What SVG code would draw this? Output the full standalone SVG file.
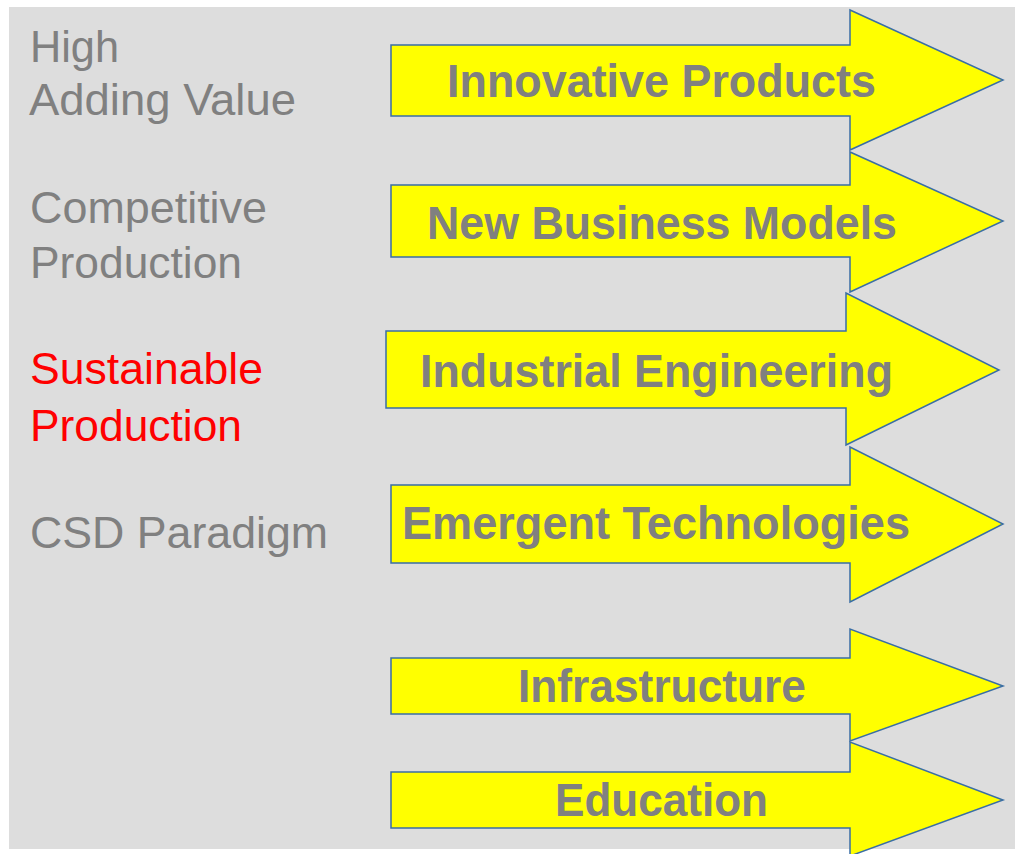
<svg xmlns="http://www.w3.org/2000/svg" width="1015" height="854" viewBox="0 0 1015 854">
<style>
.arrow{fill:#FFFF00;stroke:#3A6EA5;stroke-width:1.5;stroke-linejoin:miter}
.lbl{font-family:"Liberation Sans",Arial,sans-serif;font-weight:bold;font-size:46px;fill:#808080}
.side{font-family:"Liberation Sans",Arial,sans-serif;font-size:45px;fill:#808080}
.red{fill:#FF0000}
</style>
<rect x="0" y="0" width="1015" height="854" fill="#FFFFFF"/>
<rect x="9" y="7" width="1006" height="842" fill="#DDDDDD"/>
<g id="side-labels">
<text class="side" x="30" y="62" textLength="89" lengthAdjust="spacingAndGlyphs">High</text>
<text class="side" x="29" y="115" textLength="267" lengthAdjust="spacingAndGlyphs">Adding Value</text>
<text class="side" x="30" y="223" textLength="237" lengthAdjust="spacingAndGlyphs">Competitive</text>
<text class="side" x="30" y="278" textLength="212" lengthAdjust="spacingAndGlyphs">Production</text>
<text class="side red" x="30" y="384" textLength="233" lengthAdjust="spacingAndGlyphs">Sustainable</text>
<text class="side red" x="30" y="441" textLength="212" lengthAdjust="spacingAndGlyphs">Production</text>
<text class="side" x="30" y="548" textLength="298" lengthAdjust="spacingAndGlyphs">CSD Paradigm</text>
</g>
<g id="arrow-innovative">
<path class="arrow" d="M391,45 H850 V10 L1003,80 L850,150 V116 H391 Z"/>
<text class="lbl" x="447" y="97" textLength="429" lengthAdjust="spacingAndGlyphs">Innovative Products</text>
</g>
<g id="arrow-business">
<path class="arrow" d="M391,185 H850 V152 L1003,221 L850,292 V257 H391 Z"/>
<text class="lbl" x="427" y="239" textLength="470" lengthAdjust="spacingAndGlyphs">New Business Models</text>
</g>
<g id="arrow-industrial">
<path class="arrow" d="M386,331 H846 V293 L999,370 L846,445 V408 H386 Z"/>
<text class="lbl" x="420" y="387" textLength="473" lengthAdjust="spacingAndGlyphs">Industrial Engineering</text>
</g>
<g id="arrow-emergent">
<path class="arrow" d="M391,485 H850 V447 L1003,524 L850,602 V563 H391 Z"/>
<text class="lbl" x="402" y="539" textLength="508" lengthAdjust="spacingAndGlyphs">Emergent Technologies</text>
</g>
<g id="arrow-infrastructure">
<path class="arrow" d="M391,658 H850 V629 L1003,686 L850,741 V714 H391 Z"/>
<text class="lbl" x="518" y="702" textLength="288" lengthAdjust="spacingAndGlyphs">Infrastructure</text>
</g>
<g id="arrow-education">
<path class="arrow" d="M391,772 H850 V742 L1003,800 L850,856 V828 H391 Z"/>
<text class="lbl" x="555" y="816" textLength="213" lengthAdjust="spacingAndGlyphs">Education</text>
</g>
<g id="connectors"></g>
</svg>
